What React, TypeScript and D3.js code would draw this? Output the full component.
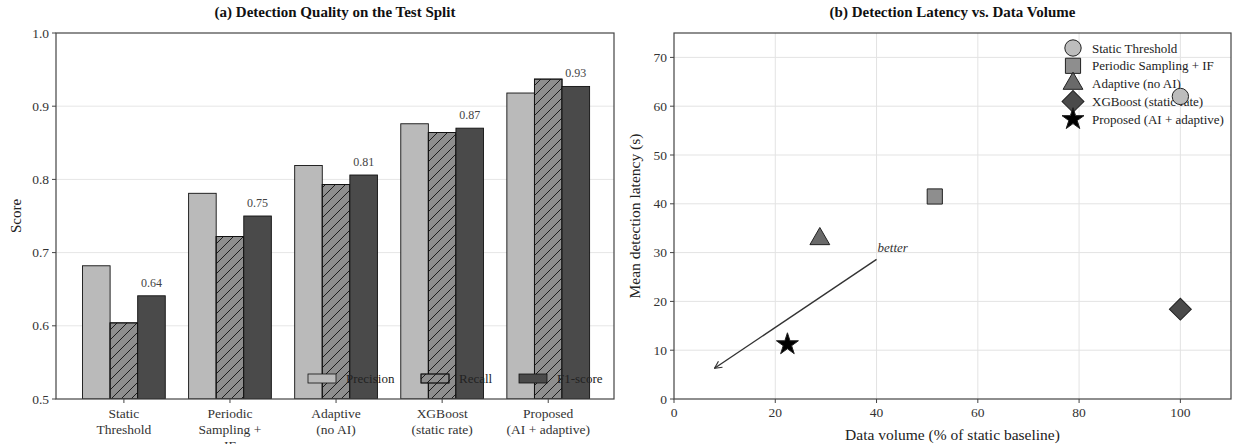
import React from 'react';
import * as d3 from 'd3';

// panel (a) data
const methods = ['Static Threshold', 'Periodic Sampling + IF', 'Adaptive (no AI)', 'XGBoost (static rate)', 'Proposed (AI + adaptive)'];
const tickLines = [['Static', 'Threshold'], ['Periodic', 'Sampling +', 'IF'], ['Adaptive', '(no AI)'], ['XGBoost', '(static rate)'], ['Proposed', '(AI + adaptive)']];
const precision = [0.682, 0.781, 0.819, 0.876, 0.918];
const recall = [0.604, 0.722, 0.793, 0.864, 0.937];
const f1 = [0.641, 0.75, 0.806, 0.87, 0.927];
const metricNames = ['Precision', 'Recall', 'F1-score'];
const scoreTicks = [0.5, 0.6, 0.7, 0.8, 0.9, 1.0];

// panel (b) data
const dataVolume = [100, 51.5, 28.8, 100, 22.4];
const latency = [62, 41.5, 32.8, 18.4, 11.2];
const volumeTicks = [0, 20, 40, 60, 80, 100];
const latencyTicks = [0, 10, 20, 30, 40, 50, 60, 70];

const FONT = '"Liberation Serif", "DejaVu Serif", serif';
const metricFill = ['#bababa', '#8e8e8e', '#4a4a4a'];
const markerFill = ['#bdbdbd', '#8e8e8e', '#6a6a6a', '#4a4a4a', '#000000'];
const markerType = [d3.symbolCircle, d3.symbolSquare, d3.symbolTriangle, d3.symbolSquare, d3.symbolStar];
const markerSize = [210, 230, 170, 240, 150];
const markerRot = [0, 0, 0, 45, 0];

export default function App() {
  const W = 1233, H = 444;

  // ---- panel a
  const a = { left: 56, right: 614, top: 33, bottom: 399 };
  const xa = d3.scaleLinear().domain([-0.64, 4.62]).range([a.left, a.right]);
  const ya = d3.scaleLinear().domain([0.5, 1.0]).range([a.bottom, a.top]);
  const bw = 0.26;
  const series = [precision, recall, f1];

  // ---- panel b
  const b = { left: 674, right: 1231, top: 33, bottom: 399 };
  const xb = d3.scaleLinear().domain([0, 110]).range([b.left, b.right]);
  const yb = d3.scaleLinear().domain([0, 75]).range([b.bottom, b.top]);

  const sym = (i: number) => d3.symbol().type(markerType[i]).size(markerSize[i])() as string;

  return (
    <svg width={W} height={H} style={{ position: 'fixed', left: 0, top: 0, background: '#fff' }} fontFamily={FONT}>
      <defs>
        <pattern id="hatch" patternUnits="userSpaceOnUse" width="10" height="10">
          <path d="M-1,1 l2,-2 M0,10 l10,-10 M9,11 l2,-2" stroke="#111" strokeWidth="0.9" />
        </pattern>
        <clipPath id="clipA"><rect x={a.left} y={a.top} width={a.right - a.left} height={a.bottom - a.top} /></clipPath>
      </defs>

      {/* ===== panel (a) ===== */}
      <text x={(a.left + a.right) / 2} y={17} textAnchor="middle" fontWeight="bold" fontSize={15} fill="#111">(a) Detection Quality on the Test Split</text>
      {scoreTicks.slice(1, -1).map(t => (
        <line key={t} x1={a.left} x2={a.right} y1={ya(t)} y2={ya(t)} stroke="#e6e6e6" strokeWidth={1} />
      ))}
      <g clipPath="url(#clipA)">
        {methods.map((m, i) => series.map((s, k) => {
          const x0 = xa(i + (k - 1) * bw - bw / 2);
          const w = xa(bw) - xa(0);
          return (
            <g key={m + k}>
              <rect x={x0} y={ya(s[i])} width={w} height={ya(0.5) - ya(s[i])} fill={metricFill[k]} stroke="#111" strokeWidth={0.9} />
              {k === 1 && <rect x={x0} y={ya(s[i])} width={w} height={ya(0.5) - ya(s[i])} fill="url(#hatch)" stroke="#111" strokeWidth={0.9} />}
            </g>
          );
        }))}
      </g>
      {methods.map((m, i) => (
        <text key={m} x={xa(i + bw)} y={ya(f1[i]) - 9} textAnchor="middle" fontSize={12} fill="#444">{f1[i].toFixed(2)}</text>
      ))}
      {/* legend */}
      {metricNames.map((n, k) => {
        const lx = [308, 421, 519][k];
        return (
          <g key={n}>
            <rect x={lx} y={374} width={28} height={9} fill={metricFill[k]} stroke="#111" strokeWidth={0.8} />
            {k === 1 && <rect x={lx} y={374} width={28} height={9} fill="url(#hatch)" stroke="#111" strokeWidth={0.8} />}
            <text x={lx + 38} y={383} fontSize={13} fill="#222">{n}</text>
          </g>
        );
      })}
      <rect x={a.left} y={a.top} width={a.right - a.left} height={a.bottom - a.top} fill="none" stroke="#444" strokeWidth={1.2} />
      {scoreTicks.map(t => (
        <g key={t}>
          <line x1={a.left - 4} x2={a.left} y1={ya(t)} y2={ya(t)} stroke="#444" />
          <text x={a.left - 7} y={ya(t) + 4.5} textAnchor="end" fontSize={13.5} fill="#333">{t.toFixed(1)}</text>
        </g>
      ))}
      {tickLines.map((lines, i) => (
        <g key={i}>
          <line x1={xa(i)} x2={xa(i)} y1={a.bottom} y2={a.bottom + 4} stroke="#444" />
          {lines.map((l, j) => (
            <text key={j} x={xa(i)} y={a.bottom + 19 + j * 16} textAnchor="middle" fontSize={13.5} fill="#333">{l}</text>
          ))}
        </g>
      ))}
      <text transform={`translate(21,${(a.top + a.bottom) / 2}) rotate(-90)`} textAnchor="middle" fontSize={15} fill="#222">Score</text>

      {/* ===== panel (b) ===== */}
      <text x={(b.left + b.right) / 2} y={17} textAnchor="middle" fontWeight="bold" fontSize={15} fill="#111">(b) Detection Latency vs. Data Volume</text>
      {volumeTicks.slice(1).map(t => (
        <line key={t} x1={xb(t)} x2={xb(t)} y1={b.top} y2={b.bottom} stroke="#e3e3e3" strokeWidth={1} />
      ))}
      {latencyTicks.slice(1).map(t => (
        <line key={t} x1={b.left} x2={b.right} y1={yb(t)} y2={yb(t)} stroke="#e3e3e3" strokeWidth={1} />
      ))}
      {/* better arrow */}
      <defs>
        <marker id="arr" viewBox="0 0 10 10" refX="9" refY="5" markerWidth="9" markerHeight="9" orient="auto-start-reverse" markerUnits="userSpaceOnUse">
          <path d="M1,1 L9,5 L1,9" fill="none" stroke="#333" strokeWidth={1.3} />
        </marker>
      </defs>
      <line x1={xb(40)} y1={yb(28.6)} x2={xb(8)} y2={yb(6.3)} stroke="#333" strokeWidth={1.4} markerEnd="url(#arr)" />
      <text x={xb(40.2)} y={yb(30.2)} fontSize={13} fontStyle="italic" fill="#333">better</text>
      {/* legend */}
      {methods.map((m, i) => {
        const ly = 48 + i * 17.8;
        return (
          <g key={m}>
            <path d={sym(i)} transform={`translate(1073,${ly}) rotate(${markerRot[i]})`} fill={markerFill[i]} stroke="#222" strokeWidth={1} />
            <text x={1092} y={ly + 4.5} fontSize={13} fill="#222">{m}</text>
          </g>
        );
      })}
      {/* points */}
      {methods.map((m, i) => (
        <path key={m} d={sym(i)} transform={`translate(${xb(dataVolume[i])},${yb(latency[i])}) rotate(${markerRot[i]})`} fill={markerFill[i]} stroke="#222" strokeWidth={1} />
      ))}
      <rect x={b.left} y={b.top} width={b.right - b.left} height={b.bottom - b.top} fill="none" stroke="#444" strokeWidth={1.2} />
      {latencyTicks.map(t => (
        <g key={t}>
          <line x1={b.left - 4} x2={b.left} y1={yb(t)} y2={yb(t)} stroke="#444" />
          <text x={b.left - 7} y={yb(t) + 4.5} textAnchor="end" fontSize={13.5} fill="#333">{t}</text>
        </g>
      ))}
      {volumeTicks.map(t => (
        <g key={t}>
          <line x1={xb(t)} x2={xb(t)} y1={b.bottom} y2={b.bottom + 4} stroke="#444" />
          <text x={xb(t)} y={b.bottom + 18} textAnchor="middle" fontSize={13.5} fill="#333">{t}</text>
        </g>
      ))}
      <text x={(b.left + b.right) / 2} y={440} textAnchor="middle" fontSize={15.5} fill="#222">Data volume (% of static baseline)</text>
      <text transform={`translate(640,${(b.top + b.bottom) / 2}) rotate(-90)`} textAnchor="middle" fontSize={15.5} fill="#222">Mean detection latency (s)</text>
    </svg>
  );
}
